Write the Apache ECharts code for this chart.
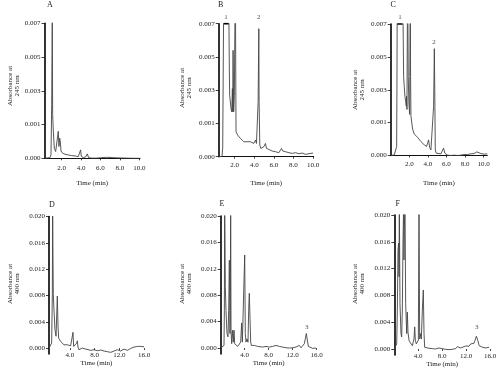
<!DOCTYPE html>
<html><head><meta charset="utf-8">
<script src="https://cdn.jsdelivr.net/npm/echarts@6/dist/echarts.min.js"></script>
<style>html,body{margin:0;padding:0;background:#fff}#c{width:500px;height:384px}</style>
</head><body><div id="c"></div>
<script>
// ---------- DATA ----------
const timeA = [0.23,0.79,0.90,0.97,1.03,1.07,1.14,1.24,1.38,1.55,1.65,1.72,1.79,1.86,1.93,2.10,2.34,2.68,3.03,3.37,3.71,3.85,3.95,4.02,4.23,4.50,4.64,4.78,5.09,5.60,6.12,6.64,7.32,8.01,8.70,9.38,10.0];
const absA  = [0,0.00004,0.0002,0.0032,0.0082,0.0026,0.0016,0.0006,0.0004,0.0005,0.0016,0.0007,0.0012,0.0010,0.00043,0.0003,0.00024,0.0002,0.00016,0.00014,0.0001,0.0002,0.0005,0.00012,0.00004,0.0001,0.00026,0.00004,0.00001,0.00001,0.00004,0.00006,0.00004,0.00002,0.00001,0,0];

const timeB = [0.36,0.70,0.77,0.83,0.90,1.35,1.45,1.48,1.55,1.62,1.69,1.76,1.79,1.83,1.89,1.96,2.06,2.13,2.20,2.30,2.41,2.58,2.75,2.92,3.09,3.26,3.43,3.61,3.77,3.95,4.12,4.22,4.32,4.39,4.46,4.49,4.56,4.66,4.80,4.97,5.14,5.24,5.48,5.83,6.17,6.51,6.68,6.78,6.92,7.19,7.54,7.88,8.22,8.56,8.90,9.24,9.59,10.0];
const absB  = [0,0.00002,0.00054,0.00064,0.012,0.012,0.0051,0.0037,0.0036,0.0029,0.0027,0.0041,0.0027,0.0064,0.0027,0.0037,0.011,0.0015,0.0014,0.0013,0.0012,0.0011,0.0010,0.0009,0.0010,0.0009,0.0010,0.0009,0.0010,0.0008,0.0010,0.0008,0.0009,0.0033,0.0077,0.0033,0.0007,0.0005,0.0006,0.0006,0.0008,0.0005,0.00044,0.00034,0.0003,0.00024,0.00034,0.0005,0.00034,0.0003,0.00024,0.0002,0.00024,0.00018,0.00022,0.00014,0.00018,0.00022];

const timeC = [0.03,0.39,0.57,0.64,0.67,0.72,1.25,1.35,1.39,1.46,1.53,1.61,1.68,1.71,1.75,1.82,1.89,1.96,2.04,2.11,2.14,2.18,2.36,2.54,2.90,3.25,3.61,3.86,3.97,4.08,4.19,4.33,4.44,4.51,4.62,4.70,4.76,4.80,4.90,5.05,5.40,5.58,5.69,5.83,6.12,6.48,6.84,7.20,7.56,7.91,8.27,8.63,8.99,9.28,9.42,9.70,10.06,10.4];
const absC  = [0,0.00004,0.00014,0.00055,0.004,0.012,0.012,0.0072,0.0048,0.0042,0.0036,0.0033,0.0030,0.0036,0.0028,0.011,0.0048,0.0032,0.0025,0.011,0.0048,0.0024,0.0016,0.0013,0.0011,0.00085,0.00065,0.00055,0.00075,0.00095,0.0005,0.00034,0.00024,0.00034,0.003,0.0065,0.003,0.00034,0.00014,0.00008,0.0001,0.00018,0.00045,0.00014,0.00002,0,0.00002,0,0.00002,0.00006,0.00006,0.0001,0.00012,0.00022,0.00018,0.00012,0.00008,0.0001];

const timeD = [0.6,0.87,1.03,1.14,1.19,1.25,1.30,1.41,1.57,1.74,1.84,1.95,2.00,2.06,2.17,2.49,2.76,3.03,3.30,3.57,3.84,4.11,4.38,4.49,4.60,4.76,4.92,5.09,5.19,5.30,5.46,5.73,6.00,6.28,6.55,6.82,7.36,7.90,8.44,8.98,9.52,10.06,10.6,11.14,11.68,12.22,12.76,13.3,13.84,14.11,14.38,14.65,14.92,15.46,16.0];
const absD  = [0,0.0001,0.00076,0.0083,0.022,0.0134,0.0081,0.0058,0.0028,0.0018,0.002,0.0079,0.0058,0.0033,0.0015,0.001,0.00076,0.0005,0.00035,0.0005,0.00025,0.00035,0.00025,0.0024,0.00025,0,0.00015,0.00076,0.0011,0.00015,-0.00025,-0.00015,0,-0.00025,-0.00015,-0.00025,-0.00035,-0.00025,-0.0004,-0.0003,-0.00045,-0.00055,-0.00065,-0.00045,-0.00025,-0.00045,-0.00015,-0.00035,-0.00005,-0.00025,0.00015,-0.00015,0.00025,0.00025,0.0002];

const timeE = [0,0.33,0.55,0.61,0.66,0.72,0.77,0.88,1.05,1.22,1.33,1.44,1.49,1.55,1.61,1.66,1.72,1.83,1.94,1.99,2.10,2.22,2.33,2.55,2.83,3.10,3.33,3.49,3.61,3.77,3.88,4.00,4.10,4.22,4.38,4.55,4.66,4.77,4.88,5.00,5.10,5.33,5.61,5.88,6.16,6.44,7.00,7.55,8.10,8.66,9.22,9.78,10.05,10.33,10.88,11.44,12.0,12.55,13.1,13.38,13.66,13.94,14.1,14.27,14.44,14.61,14.94,15.33,15.88];
const absE  = [0,0.00005,0.0004,0.0057,0.022,0.0158,0.0093,0.0057,0.0022,0.0017,0.0057,0.0133,0.0083,0.0022,0.0057,0.022,0.0027,0.00066,0.0009,0.0027,0.0009,0.0027,0.00066,0.0004,0.00025,0.0004,0.0009,0.0038,0.0009,0.00066,0.0012,0.0141,0.0022,0.0009,0.0014,0.0009,0.0057,0.0083,0.0047,0.0009,0.0004,0.00015,0.0004,0.00015,0.00025,0.00005,0.00015,0.00025,0.00015,0.00025,0.0004,0.00025,0.0004,0.00015,0.00005,0,0.00005,0.00015,0.0004,0.00005,0.00015,0.00066,0.0014,0.0022,0.0012,0.00025,0.00005,-0.00005,0];

const timeF = [0,0.23,0.40,0.51,0.62,0.73,0.79,0.84,0.95,1.12,1.23,1.34,1.45,1.57,1.62,1.68,1.79,1.90,2.07,2.18,2.29,2.46,2.63,2.79,3.02,3.18,3.29,3.41,3.52,3.68,3.85,4.02,4.13,4.24,4.41,4.52,4.69,4.85,4.97,5.08,5.25,5.80,6.36,6.92,7.47,8.03,8.59,9.15,9.70,10.26,10.54,10.82,11.10,11.38,11.93,12.49,12.77,13.05,13.33,13.50,13.72,13.84,13.95,14.18,14.74,15.30,15.84];
const absF  = [0,0.0001,0.00075,0.0058,0.0148,0.0158,0.0108,0.022,0.0068,0.0023,0.0018,0.0058,0.0158,0.022,0.0133,0.018,0.022,0.0068,0.0023,0.0055,0.0025,0.0013,0.001,0.00075,0.0005,0.00075,0.0015,0.0033,0.0013,0.00075,0.00085,0.0013,0.022,0.0015,0.0023,0.0015,0.0058,0.0088,0.0023,0.00025,0.00015,0.0001,0.00005,0,0.00015,0.00005,-0.00005,-0.0001,-0.00005,0.00005,0.00035,0.00025,0.00015,0.00035,0.00045,0.0004,0.00075,0.00055,0.00085,0.0013,0.0019,0.002,0.0013,0.0005,0.00025,0.00015,0.00025];

// saturated-peak brackets (start, end times) and peak number labels
const bracketB = [0.87, 1.38];
const bracketC = [0.71, 1.28];
const peakNamesB = ['1','2'], peakTimesB = [1.11, 4.46], peakAbsB = [0.0081, 0.0081];
const peakNamesC = ['1','2'], peakTimesC = [1.00, 4.66], peakAbsC = [0.0081, 0.0066];
const peakNamesE = ['3'], peakTimesE = [14.33], peakAbsE = [0.0024];
const peakNamesF = ['3'], peakTimesF = [13.78], peakAbsF = [0.0025];

const panelLetters = ['A','B','C','D','E','F'];
const yNames = ['Absorbance at\n245 nm','Absorbance at\n245 nm','Absorbance at\n245 nm','Absorbance at\n400 nm','Absorbance at\n400 nm','Absorbance at\n400 nm'];
const xName = 'Time (min)';
const xTicksTop = [2,4,6,8,10];
const xTicksBottom = [4,8,12,16];
const yTicksTop = [0,0.002,0.004,0.006,0.008];
const yTickLabelsTop = ['0.000','0.001','0.003','0.005','0.007'];
const yTicksBottom = [0,0.004,0.008,0.012,0.016,0.020];
const yTickLabelsBottom = ['0.000','0.004','0.008','0.012','0.016','0.020'];

// ---------- LAYOUT ----------
const FONT = 'Liberation Serif';
const TXT = '#222';
const panels = [
  {t:timeA,a:absA, grid:{left:44.5,top:23.3,width:95.5,height:135}, x:[0.23,10.07], y:[0,0.008], top:true, lblMargin:6, nameGap:21, letter:[47,1], yName:[13.3,86]},
  {t:timeB,a:absB, grid:{left:218.7,top:23.7,width:95,height:133}, x:[0.36,10.07], y:[0,0.008], top:true, lblMargin:5, nameGap:22.5, letter:[218,1], yName:[185.3,88], bracket:bracketB, pk:[peakNamesB,peakTimesB,peakAbsB]},
  {t:timeC,a:absC, grid:{left:390.7,top:24,width:96.6,height:131.5}, x:[0,10.4], y:[0,0.008], top:true, lblMargin:5, nameGap:23.7, letter:[390.5,1], yName:[359,90], bracket:bracketC, pk:[peakNamesC,peakTimesC,peakAbsC]},
  {t:timeD,a:absD, grid:{left:49,top:216.5,width:95,height:137.5}, x:[0.6,16], y:[-0.0009,0.020], top:false, lblMargin:-2.5, nameGap:6, letter:[49,201], yName:[13.3,284]},
  {t:timeE,a:absE, grid:{left:220.7,top:216,width:96,height:138}, x:[0,16], y:[-0.0009,0.020], top:false, lblMargin:-2.5, nameGap:6, letter:[219.5,200], yName:[185.5,284], pk:[peakNamesE,peakTimesE,peakAbsE]},
  {t:timeF,a:absF, grid:{left:394.3,top:215,width:95.7,height:140}, x:[0,16], y:[-0.0009,0.020], top:false, lblMargin:-2.5, nameGap:6, letter:[395.5,200], yName:[359,284], pk:[peakNamesF,peakTimesF,peakAbsF]}
];

const grid=[], xAxis=[], yAxis=[], series=[], title=[], graphic=[];
panels.forEach((p,i)=>{
  grid.push(Object.assign({containLabel:false}, p.grid));
  const xt = p.top ? xTicksTop : xTicksBottom;
  const yt = p.top ? yTicksTop : yTicksBottom;
  const yl = p.top ? yTickLabelsTop : yTickLabelsBottom;
  xAxis.push({type:'value', gridIndex:i, min:p.x[0], max:p.x[1],
    name:xName, nameLocation:'middle', nameGap:p.nameGap,
    nameTextStyle:{fontFamily:FONT,fontSize:7,color:TXT,verticalAlign:'top'},
    axisLine:{show:p.top, lineStyle:{color:'#111',width:1}},
    axisTick:{show:true, length:2, customValues:xt, lineStyle:{color:'#111',width:0.8}},
    axisLabel:{customValues:xt, margin:p.lblMargin, fontFamily:FONT, fontSize:7, color:TXT, formatter:v=>v.toFixed(1)},
    splitLine:{show:false}});
  yAxis.push({type:'value', gridIndex:i, min:p.y[0], max:p.y[1],
    axisLine:{show:true, lineStyle:{color:'#000',width:1.6}},
    axisTick:{show:true, length:3, customValues:yt, lineStyle:{color:'#111',width:0.8}},
    axisLabel:{customValues:yt, margin:4, fontFamily:FONT, fontSize:7, color:TXT,
      formatter:v=>{const k=yt.findIndex(u=>Math.abs(u-v)<1e-9); return k>=0?yl[k]:'';}},
    splitLine:{show:false}});
  series.push({type:'line', xAxisIndex:i, yAxisIndex:i, data:p.t.map((t,k)=>[t,p.a[k]]),
    showSymbol:false, symbol:'none', clip:true, lineStyle:{color:'#444',width:0.9}, silent:true});
  if(p.bracket){
    series.push({type:'line', xAxisIndex:i, yAxisIndex:i, data:p.bracket.map(t=>[t,p.y[1]]),
      showSymbol:false, symbol:'none', clip:false, lineStyle:{color:'#000',width:1.6}, silent:true});
  }
  if(p.pk){
    const [nm,tt,aa]=p.pk;
    series.push({type:'scatter', xAxisIndex:i, yAxisIndex:i, clip:false, symbolSize:1,
      itemStyle:{color:'rgba(0,0,0,0)'},
      data:tt.map((t,k)=>({value:[t,aa[k]], name:nm[k]})),
      label:{show:true, position:'top', distance:1, formatter:d=>d.name, fontFamily:FONT, fontSize:7, color:TXT}, silent:true});
  }
  title.push({text:panelLetters[i], left:p.letter[0], top:p.letter[1], padding:0,
    textStyle:{fontFamily:FONT,fontSize:8,fontWeight:'normal',color:TXT}});
  graphic.push({type:'text', x:p.yName[0], y:p.yName[1], rotation:Math.PI/2,
    style:{text:yNames[i], font:'7px "'+FONT+'"', fill:TXT, align:'center', verticalAlign:'middle', lineHeight:7}});
});

const chart = echarts.init(document.getElementById('c'), null, {renderer:'canvas'});
chart.setOption({animation:false, backgroundColor:'#fff', title, grid, xAxis, yAxis, series, graphic});
</script></body></html>
